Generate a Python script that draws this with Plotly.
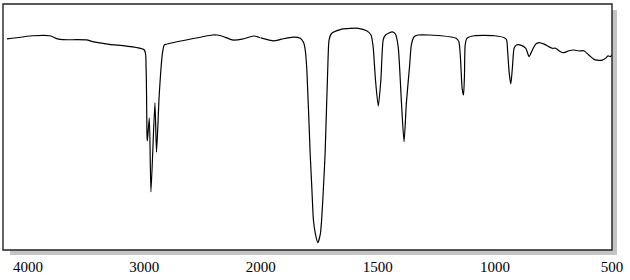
import plotly.graph_objects as go

# High-wavenumber region (4000-2000 cm-1 scale)
wn_high = [4180, 3957, 3812, 3744, 3701, 3496, 3444, 3299, 3000, 2985, 2977, 2974,
           2957, 2943, 2909, 2895, 2872, 2844, 2829, 2815, 2416, 2376, 2316, 2245,
           2160, 2060, 2017, 2000]
t_high = [85.8, 87.1, 87.1, 85.8, 85.5, 85.4, 84.7, 83.6, 81.3, 74.0, 46.7, 44.3,
          53.7, 23.6, 59.8, 39.8, 63.0, 80.1, 83.3, 83.6, 87.4, 87.4, 86.7, 85.4,
          85.7, 87.0, 86.5, 86.2]

# Low-wavenumber region (2000-500 cm-1 scale)
wn_low = [2000, 1945, 1911, 1860, 1831, 1817, 1810, 1803, 1789, 1782, 1775, 1767,
          1756, 1745, 1740, 1732, 1725, 1714, 1708, 1697, 1654, 1583, 1548, 1529,
          1520, 1510, 1498, 1487, 1477, 1467, 1438, 1425, 1413, 1399, 1388, 1378,
          1364, 1357, 1345, 1328, 1230, 1166, 1154, 1147, 1140, 1134, 1130, 1127,
          1119, 1088, 1002, 960, 950, 946, 939, 932, 925, 918, 908, 890, 868, 854,
          840, 826, 811, 790, 769, 755, 741, 720, 705, 684, 662, 641, 620, 599,
          577, 563, 542, 528, 517, 507, 500]
t_low = [86.2, 85.0, 85.7, 86.5, 86.1, 84.3, 81.3, 73.2, 39.4, 25.7, 12.2, 6.8,
         3.0, 6.8, 12.2, 25.7, 39.4, 73.2, 85.4, 88.1, 89.8, 90.1, 89.1, 87.4,
         82.6, 69.1, 58.5, 69.1, 85.4, 87.4, 88.7, 87.8, 82.6, 59.8, 44.0, 59.8,
         75.2, 83.3, 86.7, 87.4, 87.1, 86.1, 84.7, 77.9, 65.7, 63.0, 71.1, 83.3,
         86.1, 87.1, 87.1, 86.3, 85.4, 81.3, 72.0, 67.5, 74.5, 82.0, 83.3, 83.3,
         82.0, 78.6, 81.3, 83.7, 84.3, 83.7, 82.6, 82.0, 82.0, 80.6, 80.2, 81.0,
         81.3, 80.9, 81.0, 79.3, 77.5, 77.2, 77.2, 77.9, 78.9, 78.6, 79.3]

ticks_high = [4000, 3000, 2000]
ticks_low = [1500, 1000, 500]

line = dict(color="black", width=1.2, shape="spline", smoothing=0.6)

fig = go.Figure()
fig.add_trace(go.Scatter(x=wn_high, y=t_high, mode="lines", line=line,
                         xaxis="x", yaxis="y", hoverinfo="skip"))
fig.add_trace(go.Scatter(x=wn_low, y=t_low, mode="lines", line=line,
                         xaxis="x2", yaxis="y", hoverinfo="skip"))

split = 259 / 612
tickfont = dict(family="Liberation Serif", size=15, color="black")
fig.update_layout(
    width=630, height=280,
    margin=dict(l=3, r=15, t=4, b=30),
    paper_bgcolor="white", plot_bgcolor="white",
    showlegend=False,
    xaxis=dict(domain=[0, split], range=[4214, 2000], tickvals=ticks_high,
               ticktext=[str(v) for v in ticks_high], showgrid=False,
               zeroline=False, showline=False, ticks="", tickfont=tickfont,
               ticklabelstandoff=6),
    xaxis2=dict(domain=[split, 1], range=[2000, 500], tickvals=ticks_low,
                ticktext=[str(v) for v in ticks_low], showgrid=False,
                zeroline=False, showline=False, ticks="", tickfont=tickfont,
                anchor="y", ticklabelstandoff=6),
    yaxis=dict(range=[0, 100], showticklabels=False, showgrid=False,
               zeroline=False, showline=False, ticks=""),
    shapes=[
        # drop shadow
        dict(type="rect", xref="paper", yref="paper", x0=7/612, x1=617/612,
             y0=-5/246, y1=0, fillcolor="#c4c4c4", line=dict(width=0),
             layer="below"),
        dict(type="rect", xref="paper", yref="paper", x0=1, x1=617/612,
             y0=-5/246, y1=240/246, fillcolor="#c4c4c4", line=dict(width=0),
             layer="below"),
        # frame
        dict(type="rect", xref="paper", yref="paper", x0=0, x1=1, y0=0, y1=1,
             line=dict(color="#222222", width=1.4), fillcolor="rgba(0,0,0,0)"),
    ],
)

fig.write_html("out.html")
